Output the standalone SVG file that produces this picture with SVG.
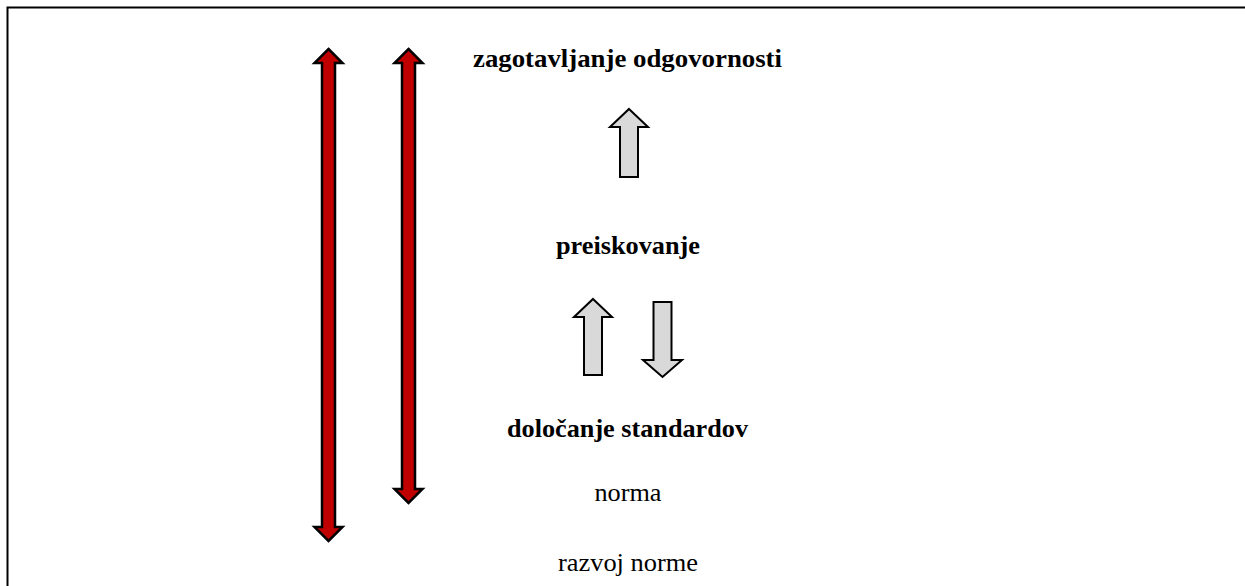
<svg xmlns="http://www.w3.org/2000/svg" width="1245" height="586" viewBox="0 0 1245 586">
<style>
.b{font-family:"Liberation Serif","Times New Roman",serif;font-weight:bold;font-size:26px;fill:#000;text-anchor:middle}
.r{font-family:"Liberation Serif","Times New Roman",serif;font-size:26px;fill:#000;text-anchor:middle}
.red{fill:#c00000;stroke:#000;stroke-width:2.5;stroke-linejoin:miter}
.gray{fill:#d9d9d9;stroke:#000;stroke-width:2;stroke-linejoin:miter}
</style>
<rect width="1245" height="586" fill="#fff"/>
<path d="M7.5,586 V7.5 H1245" fill="none" stroke="#000" stroke-width="2"/>
<g id="connectors">
<polygon class="red" points="328.5,49 342.5,63 335,63 335,527 342.5,527 328.5,541 314.5,527 322,527 322,63 314.5,63"/>
<polygon class="red" points="408.5,49 422.5,63 415,63 415,489 422.5,489 408.5,503 394.5,489 402,489 402,63 394.5,63"/>
<polygon class="gray" points="629,109 648,127 638,127 638,177 620,177 620,127 610,127"/>
<polygon class="gray" points="593,299 612,317 602,317 602,375 584,375 584,317 574,317"/>
<polygon class="gray" points="653.5,302 671.5,302 671.5,360 682,360 662.5,377 643,360 653.5,360"/>
</g>
<g id="node-zagotavljanje"><text class="b" x="627.5" y="67" textLength="309" lengthAdjust="spacingAndGlyphs">zagotavljanje odgovornosti</text></g>
<g id="node-preiskovanje"><text class="b" x="628" y="254" textLength="144" lengthAdjust="spacingAndGlyphs">preiskovanje</text></g>
<g id="node-dolocanje"><text class="b" x="627.5" y="437" textLength="241" lengthAdjust="spacingAndGlyphs">določanje standardov</text></g>
<g id="node-norma"><text class="r" x="628" y="500.5" textLength="67" lengthAdjust="spacingAndGlyphs">norma</text></g>
<g id="node-razvoj"><text class="r" x="628" y="571" textLength="140" lengthAdjust="spacingAndGlyphs">razvoj norme</text></g>
</svg>
